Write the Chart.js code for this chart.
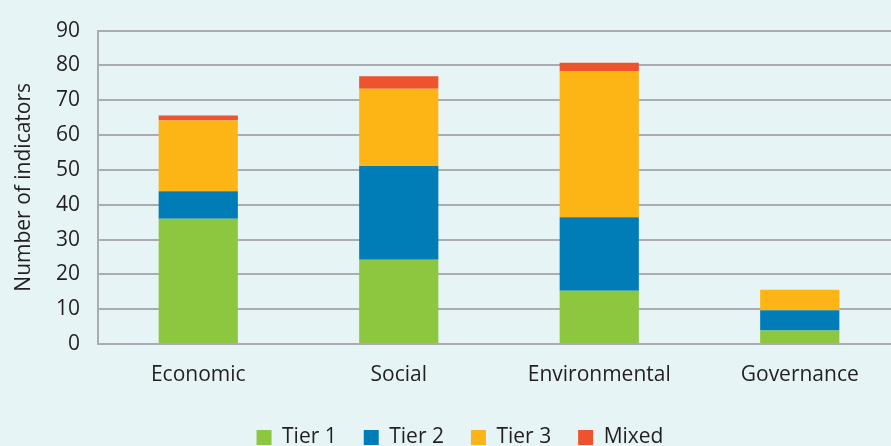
<!DOCTYPE html>
<html>
<head>
<meta charset="utf-8">
<script src="https://cdn.jsdelivr.net/npm/chart.js@4/dist/chart.umd.min.js"></script>
<style>
  html, body { margin: 0; padding: 0; overflow: hidden; background: #e6f4f5; }
  #wrap { width: 900px; height: 446px; position: relative; }
</style>
</head>
<body>
<div id="wrap"><canvas id="c"></canvas></div>
<script>
const categories = ['Economic', 'Social', 'Environmental', 'Governance'];
const tier1 = [36, 24.2, 15.3, 3.9];
const tier2 = [7.9, 26.9, 21.1, 5.8];
const tier3 = [20.3, 22.2, 41.9, 5.9];
const mixed = [1.4, 3.6, 2.5, 0];
const yTicks = [0, 10, 20, 30, 40, 50, 60, 70, 80, 90];

const ink = '#231f20';
const font = '"Open Sans", sans-serif';

function series(label, data, color) {
  return { label, data, backgroundColor: color, barPercentage: 0.395, categoryPercentage: 1 };
}

// nudge the legend row down toward the bottom edge
const legendDrop = {
  id: 'legendDrop',
  afterLayout(chart) {
    const lg = chart.legend;
    lg.top += 12;
    lg.bottom += 12;
    lg.left += 10;
    lg.right += 10;
  }
};

new Chart(document.getElementById('c'), {
  type: 'bar',
  data: {
    labels: categories,
    datasets: [
      series('Tier 1', tier1, '#8dc63f'),
      series('Tier 2', tier2, '#007db7'),
      series('Tier 3', tier3, '#fdb515'),
      series('Mixed', mixed, '#ee532d')
    ]
  },
  plugins: [legendDrop],
  options: {
    responsive: true,
    maintainAspectRatio: false,
    animation: false,
    layout: { padding: 0 },
    plugins: {
      tooltip: { enabled: false },
      legend: {
        position: 'bottom',
        labels: {
          color: ink,
          font: { family: font, size: 21 },
          boxWidth: 15, boxHeight: 15,
          padding: 27
        }
      }
    },
    scales: {
      x: {
        stacked: true,
        grid: { display: false },
        border: { display: false },
        ticks: { color: ink, font: { family: font, size: 21 }, padding: 10 },
        afterFit(s) { s.height = 44; }
      },
      y: {
        stacked: true,
        min: 0, max: 90,
        afterBuildTicks(s) { s.ticks = yTicks.map(v => ({ value: v })); },
        grid: { color: '#a9adb0', lineWidth: 2, drawTicks: false },
        border: { color: '#a9adb0', width: 2 },
        ticks: { color: ink, font: { family: font, size: 21 }, padding: 18 },
        title: { display: true, text: 'Number of indicators', color: ink, font: { family: font, size: 21 }, padding: { top: 11, bottom: 0 } },
        afterFit(s) { s.width = 98; }
      }
    }
  }
});
</script>
</body>
</html>
